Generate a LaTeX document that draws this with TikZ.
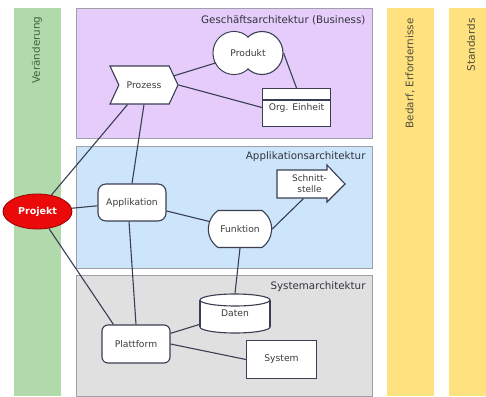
\documentclass[tikz,border=0pt]{standalone}
\usepackage{fontspec}
\setmainfont{DejaVu Sans}
\usetikzlibrary{shapes.symbols,shapes.misc,shapes.geometric}
\definecolor{changegreen}{RGB}{178,217,172}
\definecolor{changetext}{RGB}{62,100,62}
\definecolor{needyellow}{RGB}{255,225,128}
\definecolor{needtext}{RGB}{80,78,60}
\definecolor{businesspurple}{RGB}{229,204,250}
\definecolor{appblue}{RGB}{204,229,250}
\definecolor{systemgray}{RGB}{224,224,224}
\definecolor{panelborder}{RGB}{160,160,170}
\definecolor{titletext}{RGB}{50,50,62}
\definecolor{linecol}{RGB}{58,62,82}
\definecolor{nodetext}{RGB}{60,60,60}
\definecolor{projektred}{RGB}{235,10,10}
\definecolor{projektborder}{RGB}{150,0,0}

\begin{document}
\begin{tikzpicture}[x=1pt,y=-1pt,
    panel/.style={draw=panelborder,line width=0.6pt},
    title/.style={anchor=east,font=\fontsize{10.3}{12}\selectfont,text=titletext},
    coltext/.style={rotate=90,anchor=east,font=\fontsize{10.4}{12}\selectfont},
    element/.style={draw=linecol,fill=white,line width=1.1pt,
        font=\fontsize{9.2}{10}\selectfont,text=nodetext,align=center},
    link/.style={draw=linecol,line width=1.1pt}]
    \useasboundingbox (0,0) rectangle (486,396);

    % Columns
    \fill[changegreen] (14,8) rectangle (61,396);
    \fill[needyellow] (387,8) rectangle (434,396);
    \fill[needyellow] (449,8) rectangle (486,396);
    \node[coltext,text=changetext] (veraenderung) at (37,13) {Veränderung};
    \node[coltext,text=needtext] (bedarf) at (410,15) {Bedarf, Erfordernisse};
    \node[coltext,text=needtext] (standards) at (471,15) {Standards};

    % Layers
    \draw[panel,fill=businesspurple] (76,8) rectangle (372,138);
    \draw[panel,fill=appblue] (76,146) rectangle (372,268);
    \draw[panel,fill=systemgray] (76,275) rectangle (372,396);
    \node[title] (business) at (369,20) {Geschäftsarchitektur (Business)};
    \node[title] (appl) at (369,157) {Applikationsarchitektur};
    \node[title] (sys) at (369,287) {Systemarchitektur};

    % Business
    \node[element,shape=signal,signal to=east,signal from=west,signal pointer angle=130,
        minimum width=68,minimum height=38,inner sep=1pt] (prozess) at (144,85) {Prozess};
    \draw[element] (234,53) ellipse [x radius=21,y radius=21.5];
    \draw[element] (262,53) ellipse [x radius=21,y radius=21.5];
    \fill[white] (234,53) ellipse [x radius=20.3,y radius=20.8];
    \node[element,draw=none,fill=none,shape=ellipse,minimum width=70,minimum height=43,
        inner sep=0pt] (produkt) at (248,53) {Produkt};
    \node[element,minimum width=68,minimum height=38] (orgeinheit) at (296.5,107.5) {Org. Einheit};
    \draw[link] ([yshift=-12]orgeinheit.north west) -- ([yshift=-12]orgeinheit.north east);

    % Applications
    \node[element,rounded corners=8,minimum width=68,minimum height=37] (applikation) at (132,202.5) {Applikation};
    \node[element,shape=rounded rectangle,rounded rectangle arc length=110,
        minimum width=70,minimum height=37] (funktion) at (240,229) {Funktion};
    \filldraw[link,fill=white] (277,170) -- (327,170) -- (327,165) -- (345,184)
        -- (327,202) -- (327,198) -- (277,198) -- cycle;
    \node[element,draw=none,fill=none,minimum width=53,minimum height=28,inner sep=0pt,
        font=\fontsize{9}{11}\selectfont] (schnitt) at (303.5,184) {\hspace{12pt}Schnitt-\\\hspace{12pt}stelle};

    % Systems
    \draw[element] (235,327) ellipse [x radius=35,y radius=6];
    \fill[white] (200,300) rectangle (270,327);
    \draw[link] (200,300) -- (200,327) (270,300) -- (270,327);
    \draw[element] (235,300) ellipse [x radius=35,y radius=6];
    \node[element,draw=none,fill=none,minimum width=70,minimum height=39,inner sep=0pt,
        text depth=-6pt] (daten) at (235,313.5) {Daten};
    \node[element,rounded corners=6,minimum width=68,minimum height=38] (plattform) at (136,344) {Plattform};
    \node[element,minimum width=70,minimum height=38] (system) at (281.5,359.5) {System};

    % Projekt
    \node[shape=ellipse,draw=projektborder,fill=projektred,line width=0.8pt,text=white,
        font=\fontsize{9.5}{10}\selectfont\bfseries,minimum width=69,minimum height=35,
        inner sep=0pt] (projekt) at (37.5,211.5) {Projekt};

    % Links
    \draw[link] (projekt) -- (prozess);
    \draw[link] (projekt) -- (applikation);
    \draw[link] (projekt) -- ([xshift=12]plattform.north west);
    \draw[link] (prozess) -- (produkt);
    \draw[link] (prozess.east) -- (orgeinheit.west);
    \draw[link] (produkt.east) -- (orgeinheit.north);
    \draw[link] (prozess.south) -- (applikation.north);
    \draw[link] (applikation) -- (funktion);
    \draw[link] ([xshift=-3]applikation.south) -- (plattform.north);
    \draw[link] (funktion.east) -- (schnitt.south);
    \draw[link] (funktion.south) -- (daten.north);
    \draw[link] (plattform) -- (daten);
    \draw[link] (plattform.east) -- (system.west);
\end{tikzpicture}
\end{document}
